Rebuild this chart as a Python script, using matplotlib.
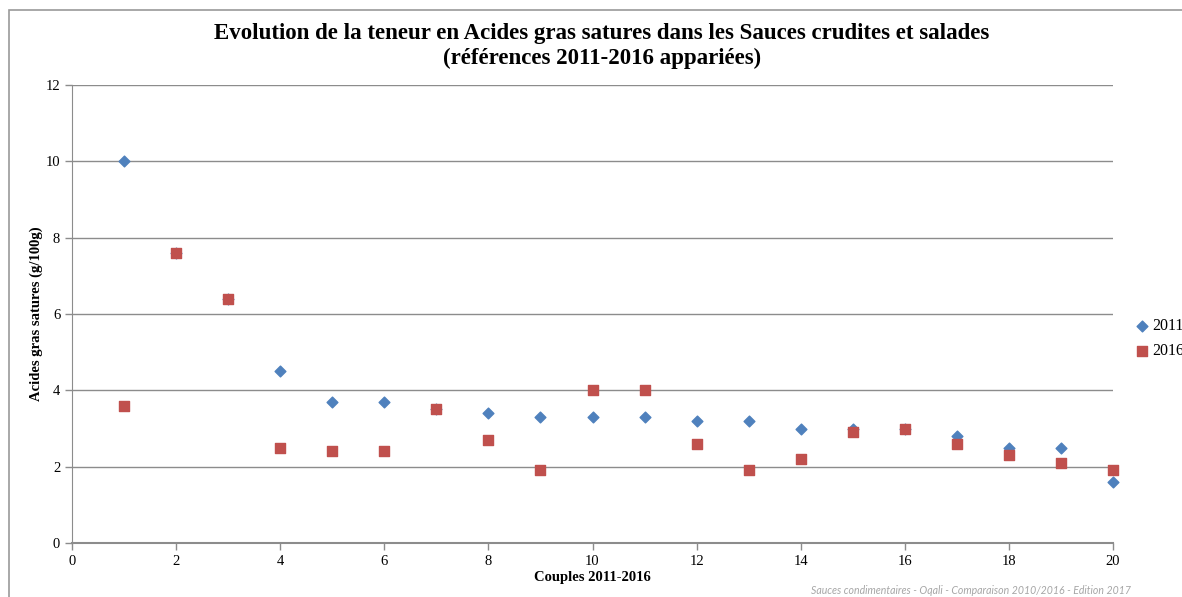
import matplotlib.pyplot as plt
from matplotlib.patches import Rectangle

# data
couples = list(range(1, 21))
v2011 = [10, 7.6, 6.4, 4.5, 3.7, 3.7, 3.5, 3.4, 3.3, 3.3,
         3.3, 3.2, 3.2, 3.0, 3.0, 3.0, 2.8, 2.5, 2.5, 1.6]
v2016 = [3.6, 7.6, 6.4, 2.5, 2.4, 2.4, 3.5, 2.7, 1.9, 4.0,
         4.0, 2.6, 1.9, 2.2, 2.9, 3.0, 2.6, 2.3, 2.1, 1.9]
xticks = list(range(0, 21, 2))
yticks = list(range(0, 13, 2))

serif = "Liberation Serif"
blue = "#4F81BD"
red = "#C0504D"
grid = "#8c8c8c"

fig = plt.figure(figsize=(11.82, 5.97), dpi=100)
# chart frame (cut on right/bottom like the screenshot)
fig.patches.append(Rectangle((9 / 1182, -0.1), 1.2, 1 - 10 / 597 + 0.1,
                             transform=fig.transFigure, fill=False,
                             edgecolor="#9a9a9a", lw=1.2))

ax = fig.add_axes([72 / 1182, 1 - 543 / 597, (1113 - 72) / 1182, (543 - 85) / 597])
ax.scatter(couples, v2011, marker="D", s=30, color=blue, zorder=3, label="2011", clip_on=False)
ax.scatter(couples, v2016, marker="s", s=58, color=red, zorder=4, label="2016", clip_on=False)

ax.set_xlim(0, 20)
ax.set_ylim(0, 12)
ax.set_xticks(xticks)
ax.set_yticks(yticks)
ax.yaxis.grid(True, color=grid, lw=1)
ax.set_axisbelow(True)
for s in ["top", "right"]:
    ax.spines[s].set_visible(False)
ax.spines["left"].set_color(grid)
ax.spines["bottom"].set_color(grid)
ax.spines["bottom"].set_linewidth(1.5)
ax.tick_params(colors=grid, length=5, width=1, labelcolor="black", labelsize=10.5)
for lab in ax.get_xticklabels() + ax.get_yticklabels():
    lab.set_fontfamily(serif)

ax.set_xlabel("Couples 2011-2016", fontfamily=serif, fontweight="bold", fontsize=10.5, labelpad=2)
ax.set_ylabel("Acides gras satures (g/100g)", fontfamily=serif, fontweight="bold", fontsize=10.5, labelpad=2)

fig.text(0.509, 1 - 46 / 597, "Evolution de la teneur en Acides gras satures dans les Sauces crudites et salades\n(références 2011-2016 appariées)",
         ha="center", va="center", fontfamily=serif, fontweight="bold", fontsize=16.5, linespacing=1.25)

# legend
fig.legend(loc="upper left", bbox_to_anchor=(1128 / 1182, 1 - 312 / 597),
           frameon=False, prop={"family": serif, "size": 11.5}, handletextpad=0.1,
           handlelength=1.0, labelspacing=0.55, borderaxespad=0)

fig.text(1131 / 1182, 1 - 591 / 597, "Sauces condimentaires - Oqali - Comparaison 2010/2016 - Edition 2017",
         ha="right", va="center", fontfamily="Lato", style="italic", fontsize=7.6, color="#a6a6a6")

fig.savefig("out.png", dpi=100)
